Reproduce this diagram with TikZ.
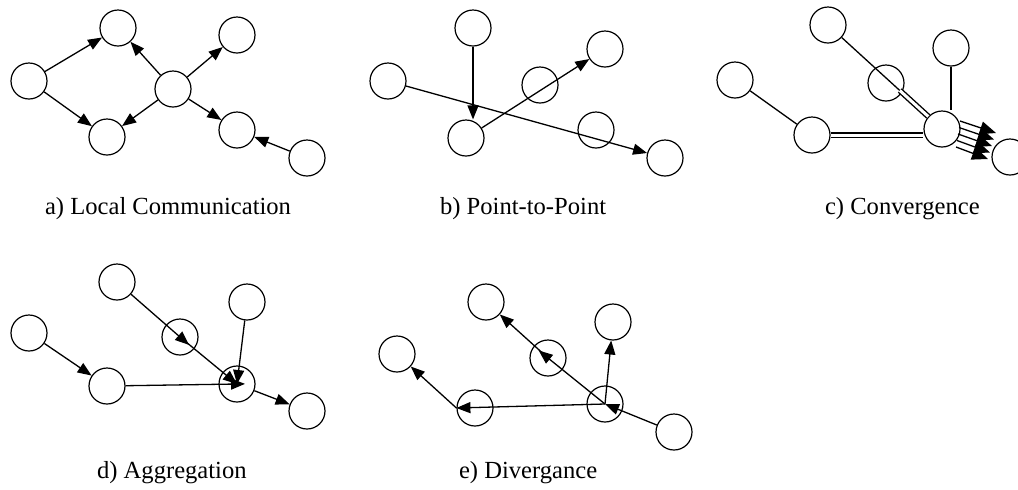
\documentclass[tikz,border=0pt]{standalone}
\usepackage{fontspec}
\setmainfont{Liberation Serif}
\usetikzlibrary{arrows.meta, calc}
\tikzset{
  station/.style={circle, draw, line width=0.6pt, minimum size=18pt, inner sep=0pt},
  arr/.style={-{Triangle[length=7pt, width=5.5pt]}, line width=0.65pt},
  link/.style={line width=0.65pt},
  pipe/.style={double, double distance=1.5pt, line width=0.7pt},
  caption/.style={anchor=base west, font=\fontsize{12.3}{14}\selectfont},
}

\begin{document}
\begin{tikzpicture}[x=0.5pt, y=-0.5pt]
  \useasboundingbox (0,0) rectangle (1018,489);

  % a) local communication
  \node[station] (a1) at (29,81) {};
  \node[station] (a2) at (118,28) {};
  \node[station] (a3) at (107,137) {};
  \node[station] (a4) at (173,89) {};
  \node[station] (a5) at (237,35) {};
  \node[station] (a6) at (237,130) {};
  \node[station] (a7) at (307,158) {};
  \draw[arr] (a1) -- (a2);
  \draw[arr] (a1) -- (a3);
  \draw[arr] (a4) -- (a2);
  \draw[arr] (a4) -- (a3);
  \draw[arr] (a4) -- (a5);
  \draw[arr] (a4) -- (a6);
  \draw[arr] (a7) -- (a6);
  \node[caption] (capa) at (38,214) {a) Local Communication};

  % b) point-to-point
  \node[station] (b1) at (473,28) {};
  \node[station] (b2) at (388,81) {};
  \node[station] (b3) at (466,138) {};
  \node[station] (b4) at (540,85) {};
  \node[station] (b5) at (605,49) {};
  \node[station] (b6) at (596,130) {};
  \node[station] (b7) at (665,158) {};
  \draw[arr] (b1) -- (b1 |- b3.north);
  \draw[arr] (b2) -- (b7);
  \draw[arr] (b3) -- (b5);
  \node[caption] (capb) at (433,214) {b) Point-to-Point};

  % c) convergence
  \node[station] (c1) at (735,80) {};
  \node[station] (c2) at (828,25) {};
  \node[station] (c3) at (886,83) {};
  \node[station] (c4) at (951,48) {};
  \node[station] (c5) at (812,135) {};
  \node[station] (c6) at (942,129) {};
  \node[station] (c7) at (1010,157) {};
  \coordinate (cjoin) at ($(c2)!0.63!(c6)$);
  \draw[link] (c1) -- (c5);
  \draw[link] (c2) -- (cjoin);
  \draw[pipe] (cjoin) -- (c6);
  \draw[pipe] (c5) -- (c5 -| c6.west);
  \draw[link] (c4) -- (c4 |- c6.north);
  \foreach \k in {0,...,4}
    \draw[arr, -{Triangle[length=8pt, width=6.5pt]}]
      ([xshift={(9-0.5*\k)*1pt}, yshift={(4-3.25*\k)*1pt}]c6.center)
      -- ([xshift={(-7-\k)*1pt}, yshift={(12-3.25*\k)*1pt}]c7.center);
  \node[caption] (capc) at (818,214) {c) Convergence};

  % d) aggregation
  \node[station] (d1) at (29,333) {};
  \node[station] (d2) at (117,282) {};
  \node[station] (d3) at (180,337) {};
  \node[station] (d4) at (247,302) {};
  \node[station] (d5) at (107,386) {};
  \node[station] (d6) at (237,384) {};
  \node[station] (d7) at (307,411) {};
  \draw[arr] (d1) -- (d5);
  \draw[arr, shorten >=-6pt] (d2) -- (d3.center);
  \draw[arr] (d3.center) -- (d6.center);
  \draw[arr, shorten >=-4pt] (d5) -- (d6.center);
  \draw[arr] (d4) -- (d6.center);
  \draw[arr] (d6) -- (d7);
  \node[caption] (capd) at (90,478) {d) Aggregation};

  % e) divergance
  \node[station] (e1) at (397,354) {};
  \node[station] (e2) at (486,302) {};
  \node[station] (e3) at (548,358) {};
  \node[station] (e4) at (613,322) {};
  \node[station] (e5) at (475,408) {};
  \node[station] (e6) at (605,404) {};
  \node[station] (e7) at (674,432) {};
  \draw[arr] (e7) -- (e6.center);
  \draw[arr] (e6.center) -- (e4);
  \draw[arr, shorten >=-6pt] (e6.center) -- (e3.center);
  \draw[arr] (e3.center) -- (e2);
  \draw[arr] (e6.center) -- (e5.west);
  \draw[arr] (e5.west) -- (e1);
  \node[caption] (cape) at (452,478) {e) Divergance};
\end{tikzpicture}
\end{document}
